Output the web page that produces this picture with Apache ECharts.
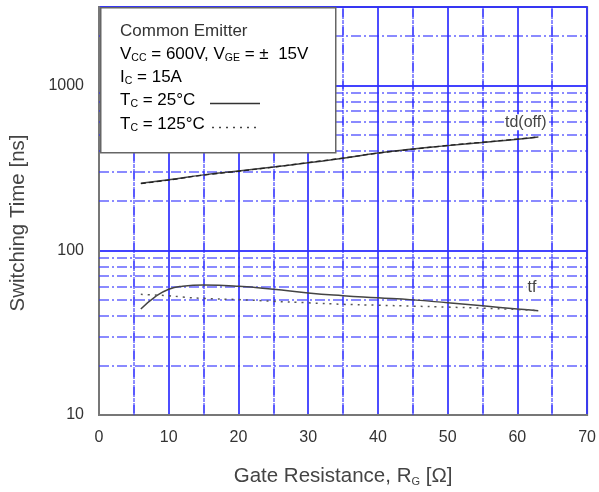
<!DOCTYPE html>
<html><head><meta charset="utf-8">
<script src="https://cdn.jsdelivr.net/npm/echarts@6/dist/echarts.min.js"></script>
<style>html,body{margin:0;padding:0;background:#fff}#c{width:599px;height:492px}</style>
</head><body><div id="c"></div>
<script>
// Data
const tdX    = [6, 10, 15, 20, 25, 30, 35, 40, 45, 50, 55, 60, 63];
const td25   = [255, 268, 287, 303, 320, 340, 362, 390, 412, 432, 452, 472, 487];
const td125  = [254, 267, 286, 302, 320, 341, 363, 389, 411, 433, 453, 473, 488];
const tfX    = [6, 8, 10, 12, 15, 20, 25, 30, 35, 40, 45, 50, 55, 60, 63];
const tf25   = [44, 52, 58, 60.5, 61.5, 60.5, 58, 55, 53, 51.5, 50, 48, 46, 44, 43];
const tf125  = [54, 53.5, 53, 52, 51, 50.2, 49, 48, 47, 46.4, 45.8, 45.2, 44.5, 43.7, 43];
const yTicks = [10, 100, 1000];
const yMinor = [20, 30, 40, 50, 60, 70, 80, 90, 200, 300, 400, 500, 600, 700, 800, 900, 2000];
const xMinor = [5, 15, 25, 35, 45, 55, 65];
const labelTd = {x: 61.2, y: 598, text: 'td(off)'};
const labelTf = {x: 62.1, y: 59, text: 'tf'};

const pairs = (xs, ys) => xs.map((x, i) => [x, ys[i]]);
const chart = echarts.init(document.getElementById('c'), null, {renderer: 'canvas'});
const FONT = 'Liberation Sans, Arial, sans-serif';
const BLUE = '#2f2fff';

const sub = {fontSize: 10.5, fontFamily: FONT, color: '#333', verticalAlign: 'bottom', padding: [8, 0, 0, 0]};
const base = {fontSize: 17, fontFamily: FONT, color: '#333'};
const markLabel = t => ({show: true, formatter: t, fontSize: 16, fontFamily: FONT, color: '#444', backgroundColor: '#fff', padding: [0, 1], position: 'inside'});

chart.setOption({
  animation: false,
  grid: {left: 99, right: 11, top: 7, bottom: 75, show: true, borderColor: '#777', borderWidth: 2, backgroundColor: '#fff'},
  xAxis: {
    type: 'value', min: 0, max: 70, interval: 10,
    name: 'Gate Resistance, R{s|G} [Ω]', nameLocation: 'middle', nameGap: 51,
    nameTextStyle: {fontSize: 20.5, fontFamily: FONT, color: '#444', rich: {s: {fontSize: 11, fontFamily: FONT, color: '#444', padding: [10, 0, 0, 0]}}},
    axisLine: {show: true, lineStyle: {color: '#777', width: 2}},
    axisTick: {show: false},
    axisLabel: {fontSize: 16, fontFamily: FONT, color: '#333', margin: 15},
    splitLine: {show: true, lineStyle: {color: BLUE, width: 2, opacity: 0.85}},
    minorTick: {show: false, splitNumber: 2},
    minorSplitLine: {show: true, lineStyle: {color: BLUE, width: 1.5, opacity: 0.7, type: [10, 3, 2, 3]}}
  },
  yAxis: {
    type: 'log', logBase: 10, min: 10, max: 3000,
    name: 'Switching Time [ns]', nameLocation: 'middle', nameGap: 70,
    nameTextStyle: {fontSize: 20.5, fontFamily: FONT, color: '#444', padding: [0, 24, 0, 0]},
    axisLine: {show: true, lineStyle: {color: '#777', width: 2}},
    axisTick: {show: false},
    axisLabel: {fontSize: 16, fontFamily: FONT, color: '#333', margin: 15, showMaxLabel: false,
      formatter: v => (yTicks.includes(Math.round(v)) ? String(Math.round(v)) : '')},
    splitLine: {show: true, lineStyle: {color: BLUE, width: 2, opacity: 0.9}}
  },
  series: [
    {
      name: 'grid-minor', type: 'line', data: [], silent: true,
      markLine: {
        silent: true, symbol: 'none', label: {show: false}, animation: false,
        lineStyle: {color: BLUE, width: 1.5, opacity: 0.75, type: [10, 3, 2, 3]},
        data: yMinor.map(v => ({yAxis: v})).concat(xMinor.map(v => ({xAxis: v})))
      }
    },
    {
      name: 'td(off) Tc=25°C', type: 'line', data: pairs(tdX, td25), smooth: true, symbol: 'none',
      lineStyle: {color: '#444', width: 1.5}, z: 5,
      markPoint: {symbol: 'circle', symbolSize: 1, itemStyle: {color: 'rgba(0,0,0,0)'},
        data: [{coord: [labelTd.x, labelTd.y], label: markLabel(labelTd.text)}]}
    },
    {
      name: 'td(off) Tc=125°C', type: 'line', data: pairs(tdX, td125), smooth: true, symbol: 'none',
      lineStyle: {color: '#222', width: 1.3, type: [5, 3]}, z: 6
    },
    {
      name: 'tf Tc=25°C', type: 'line', data: pairs(tfX, tf25), smooth: true, symbol: 'none',
      lineStyle: {color: '#444', width: 1.5}, z: 5,
      markPoint: {symbol: 'circle', symbolSize: 1, itemStyle: {color: 'rgba(0,0,0,0)'},
        data: [{coord: [labelTf.x, labelTf.y], label: markLabel(labelTf.text)}]}
    },
    {
      name: 'tf Tc=125°C', type: 'line', data: pairs(tfX, tf125), smooth: true, symbol: 'none',
      lineStyle: {color: '#555', width: 1.5, type: [2, 5]}, z: 6
    }
  ],
  graphic: [
    {type: 'rect', left: 100, top: 7, shape: {width: 235, height: 145}, style: {fill: '#fff', stroke: '#666', lineWidth: 1.5}, z: 100},
    {type: 'text', left: 120, top: 23, z: 101, style: {text: 'Common Emitter', font: '17px ' + FONT, fill: '#333'}},
    {type: 'text', left: 120, top: 46, z: 101, style: {text: '{a|V}{s|CC}{a| = 600V, V}{s|GE}{a| = ±  15V}', rich: {a: base, s: sub}}},
    {type: 'text', left: 120, top: 69, z: 101, style: {text: '{a|I}{s|C}{a| = 15A}', rich: {a: base, s: sub}}},
    {type: 'text', left: 120, top: 92, z: 101, style: {text: '{a|T}{s|C}{a| = 25°C}', rich: {a: base, s: sub}}},
    {type: 'line', z: 101, shape: {x1: 210, y1: 103.5, x2: 260, y2: 103.5}, style: {stroke: '#333', lineWidth: 1.5}},
    {type: 'text', left: 120, top: 116, z: 101, style: {text: '{a|T}{s|C}{a| = 125°C}', rich: {a: base, s: sub}}},
    {type: 'line', z: 101, shape: {x1: 212, y1: 127.5, x2: 257, y2: 127.5}, style: {stroke: '#444', lineWidth: 1.5, lineDash: [2, 5]}}
  ]
});
</script></body></html>
